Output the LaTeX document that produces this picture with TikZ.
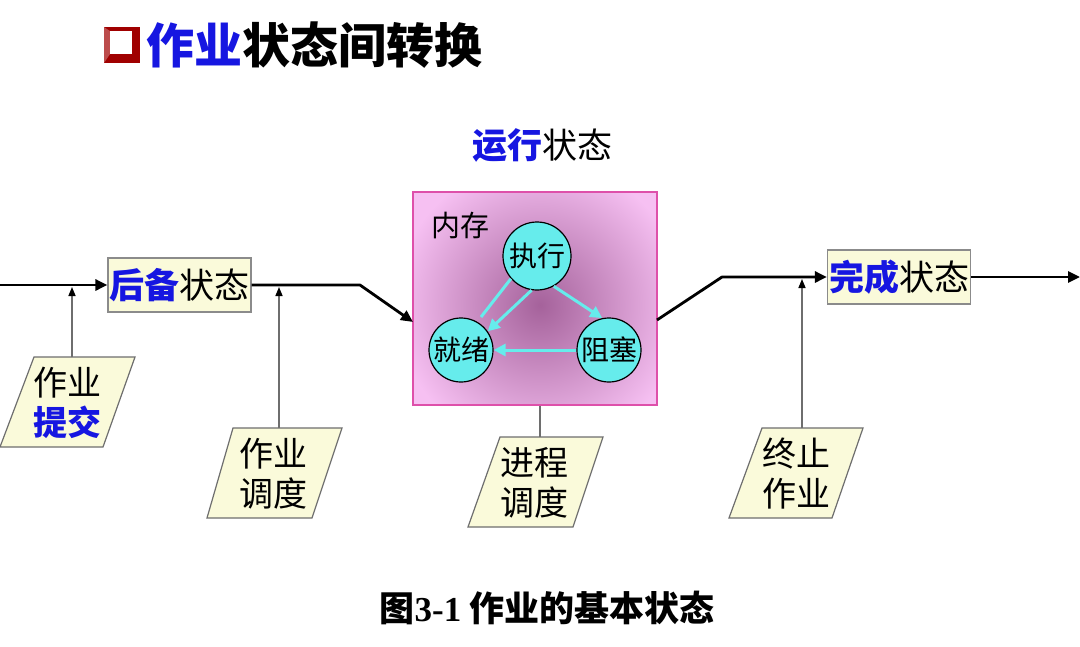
\documentclass[tikz,border=0pt]{standalone}
\usepackage{fontspec}
\setmainfont{Noto Sans CJK SC}
\newfontfamily\digitfont{Liberation Serif}
\usetikzlibrary{arrows.meta,calc}
\definecolor{kblue}{RGB}{22,22,225}
\definecolor{kcyan}{RGB}{102,236,236}
\definecolor{kpink}{RGB}{246,192,242}
\definecolor{kpurple}{RGB}{165,98,155}
\definecolor{kborder}{RGB}{222,80,170}
\definecolor{kyellow}{RGB}{250,250,218}
\definecolor{kred}{RGB}{160,0,0}
\definecolor{kgray}{RGB}{110,110,110}
\tikzset{
  mainline/.style={line width=2.8pt, black, line join=round},
  mainarrow/.style={mainline, -{Triangle[length=12pt,width=11pt]}},
  vconn/.style={line width=1.5pt, kgray, -{Triangle[length=9pt,width=7pt,color=black]}},
  vline/.style={line width=1.5pt, kgray},
  statebox/.style={draw=kgray!80, line width=1.2pt, fill=kyellow, minimum width=143pt,
    minimum height=54pt, inner sep=0pt, font=\fontsize{35}{38}\selectfont},
  parashape/.style={draw=kgray, line width=1.2pt, fill=kyellow},
  paratext/.style={align=center, inner sep=0pt, font=\fontsize{34}{40}\selectfont},
  proc/.style={circle, draw=black, line width=1.2pt, fill=kcyan, inner sep=0pt,
    font=\fontsize{28}{30}\selectfont},
  cyanline/.style={kcyan, line width=3pt},
  cyanarrow/.style={cyanline, -{Triangle[length=12pt,width=12pt]}},
  membox/.style={draw=kborder, line width=1.3pt, minimum width=244pt, minimum height=213pt, inner sep=0pt},
  plain/.style={inner sep=0pt}
}
\begin{document}
\begin{tikzpicture}[x=1pt,y=-1pt]
\useasboundingbox (0,0) rectangle (1080,646);
\fill[white] (0,0) rectangle (1080,646);

% title
\fill[kred] (104,27) rectangle (140,63);
\fill[kred!70!white] (104,27) -- (110,31) -- (110,54) -- (104,63) -- cycle;
\fill[white] (110,31) rectangle (132,54);
\node[plain, anchor=west, font=\fontsize{48}{52}\selectfont\bfseries] (title) at (146,45)
  {\textcolor{kblue}{作业}状态间转换};

% running state label
\node[plain, font=\fontsize{35}{38}\selectfont] (runlbl) at (542,145)
  {\textcolor{kblue}{\bfseries 运行}状态};

% memory box with shading
\begin{scope}
  \clip (413,192) rectangle (657,405);
  \fill[kpink] (413,192) rectangle (657,405);
  \shade[inner color=kpurple, outer color=kpink] (540,305) circle (145pt);
\end{scope}
\node[membox] (mem) at (535,298.5) {};
\node[plain, font=\fontsize{29}{32}\selectfont] (nc) at (460,226) {内存};

% process circles
\node[proc, minimum size=68pt] (zx) at (537,256) {执行};
\node[proc, minimum size=64pt] (jx) at (461,350) {就绪};
\node[proc, minimum size=64pt] (zs) at (609,350) {阻塞};
\draw[cyanarrow] (zx.-61) -- (zs.102);
\draw[cyanarrow] (zx.-99) -- (jx.35);
\draw[cyanline, shorten >=6pt] (zx.-139) -- (jx.60);
\draw[cyanarrow] (zs.west) -- (jx.east);

% state boxes
\node[statebox] (hb) at (179.5,285) {\textcolor{kblue}{\bfseries 后备}状态};
\node[statebox] (wc) at (899,277) {\textcolor{kblue}{\bfseries 完成}状态};

% main flow line
\coordinate (start) at (0,285);
\coordinate (bend1) at (360,285);
\coordinate (memin) at (413,322);
\coordinate (memout) at (657,320);
\coordinate (bend2) at (722,277);
\coordinate (finish) at (1080,277);
\draw[mainarrow] (start) -- (hb.west);
\draw[mainarrow] (hb.east) -- (bend1) -- (memin);
\draw[mainarrow] (memout) -- (bend2) -- (wc.west);
\draw[mainarrow] (wc.east) -- (finish);

% parallelograms
\draw[parashape] (34,357) -- (135,357) -- (103,447) -- (0,447) -- cycle;
\node[paratext] (tj) at (68,403) {作业\\\textcolor{kblue}{\bfseries 提交}};
\draw[parashape] (233,428) -- (342,428) -- (312,518) -- (207,518) -- cycle;
\node[paratext] (zd) at (273,474) {作业\\调度};
\draw[parashape] (500,437) -- (603,437) -- (573,527) -- (468,527) -- cycle;
\node[paratext] (jd) at (534,483) {进程\\调度};
\draw[parashape] (762,428) -- (863,428) -- (832,518) -- (729,518) -- cycle;
\node[paratext] (zz) at (796,474) {终止\\作业};

% vertical connectors
\coordinate (tjtop) at (72,357);
\coordinate (tjend) at (72,287);
\coordinate (zdtop) at (279,428);
\coordinate (zdend) at (279,287);
\coordinate (zztop) at (802,428);
\coordinate (zzend) at (802,279);
\coordinate (jdtop) at (540,437);
\draw[vconn] (tjtop) -- (tjend);
\draw[vconn] (zdtop) -- (zdend);
\draw[vconn] (zztop) -- (zzend);
\draw[vline] (mem.south -| jdtop) -- (jdtop);

% caption
\node[plain, font=\fontsize{35}{38}\selectfont\bfseries] (cap) at (547,608)
  {图{\digitfont 3-1} 作业的基本状态};
\end{tikzpicture}
\end{document}
